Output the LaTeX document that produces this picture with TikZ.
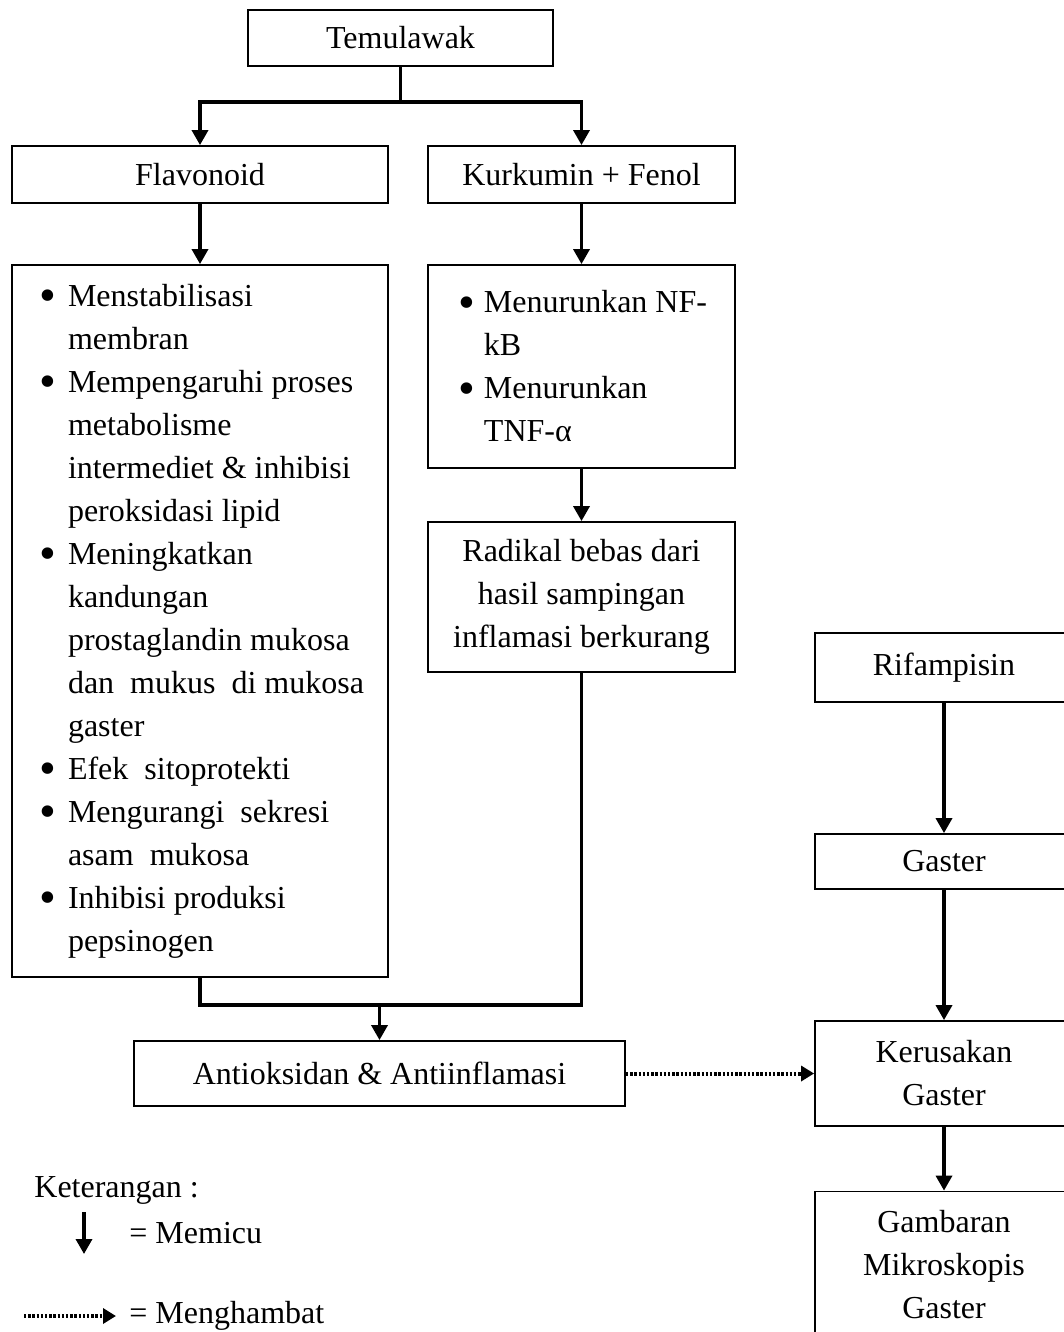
\documentclass[tikz,border=0pt]{standalone}
\usepackage{fontspec}
\setmainfont{Liberation Serif}
\usetikzlibrary{arrows.meta}
\newcommand{\diagfont}{\fontsize{16}{21.5}\selectfont}
\newcommand{\bul}[1]{\makebox[#1][l]{\hspace{1.5pt}\smash{\raisebox{-0.17em}{\scalebox{1.5}{\textbullet}}}}}
\begin{document}
\begin{tikzpicture}[x=0.5pt,y=-0.5pt,
  box/.style={draw, line width=0.9pt, inner sep=0pt, align=center, font=\diagfont},
  listbox/.style={box, align=left},
  ln/.style={line width=1.7pt},
  arr/.style={line width=1.7pt, -{Triangle[width=8pt,length=7.5pt]}},
  dotarr/.style={line width=2pt, dash pattern=on 1.2pt off 0.9pt, -{Triangle[width=7.5pt,length=6.5pt]}},
  lbl/.style={inner sep=0pt, anchor=west, font=\diagfont}]
\useasboundingbox (0,0) rectangle (1064,1332);
\clip (0,0) rectangle (1064,1332);
% nodes
\node[box, minimum width=152.5pt, minimum height=28pt] (temu) at (400.5,38) {Temulawak};
\node[box, minimum width=188pt, minimum height=28.5pt] (flav) at (200,174.5) {Flavonoid};
\node[box, minimum width=153.5pt, minimum height=28.5pt] (kurk) at (581.5,174.5) {Kurkumin + Fenol};
\node[listbox, minimum width=188pt, minimum height=356pt] (flavlist) at (200,621) {%
\bul{16pt}Menstabilisasi\\ \hspace*{16pt}membran\\
\bul{16pt}Mempengaruhi proses\\ \hspace*{16pt}metabolisme\\ \hspace*{16pt}intermediet \& inhibisi\\ \hspace*{16pt}peroksidasi lipid\\
\bul{16pt}Meningkatkan\\ \hspace*{16pt}kandungan\\ \hspace*{16pt}prostaglandin mukosa\\ \hspace*{16pt}dan~ mukus~ di mukosa\\ \hspace*{16pt}gaster\\
\bul{16pt}Efek~ sitoprotekti\\
\bul{16pt}Mengurangi~ sekresi\\ \hspace*{16pt}asam~ mukosa\\
\bul{16pt}Inhibisi produksi\\ \hspace*{16pt}pepsinogen};
\node[listbox, minimum width=153.5pt, minimum height=101.5pt] (nf) at (581.5,366.5) {%
\bul{14pt}Menurunkan NF-\\ \hspace*{14pt}kB\\
\bul{14pt}Menurunkan\\ \hspace*{14pt}TNF-α};
\node[box, minimum width=153.5pt, minimum height=75pt] (rad) at (581.5,597) {Radikal bebas dari\\hasil sampingan\\inflamasi berkurang};
\node[box, minimum width=245.5pt, minimum height=32.5pt] (anti) at (379.5,1073.5) {Antioksidan \& Antiinflamasi};
\node[box, minimum width=129pt, minimum height=34.5pt] (rif) at (944,667.5) {Rifampisin};
\node[box, minimum width=129pt, minimum height=27.5pt] (gas) at (944,861.5) {Gaster};
\node[box, minimum width=129pt, minimum height=52.5pt] (ker) at (944,1073.5) {Kerusakan\\Gaster};
\node[box, minimum width=129pt, minimum height=73pt] (gam) at (944,1264.5) {Gambaran\\Mikroskopis\\Gaster};
% connectors
\coordinate (split) at (400.5,102);
\draw[ln] (temu.south) -- (split);
\draw[arr] (split) -| (flav.north);
\draw[arr] (split) -| (kurk.north);
\draw[arr] (flav.south) -- (flavlist.north);
\draw[arr] (kurk.south) -- (nf.north);
\draw[arr] (nf.south) -- (rad.north);
\coordinate (join) at (379.5,1005);
\draw[ln] (flavlist.south) |- (rad.south |- join) -- (rad.south);
\draw[arr] (join) -- (anti.north);
\draw[dotarr] (anti.east) -- (ker.west);
\draw[arr] (rif.south) -- (gas.north);
\draw[arr] (gas.south) -- (ker.north);
\draw[arr] (ker.south) -- (gam.north);
% legend
\node[lbl] (ket) at (34,1190) {Keterangan :};
\coordinate (m1) at (84,1212);
\coordinate (m2) at (84,1254);
\draw[arr] (m1) -- (m2);
\node[lbl] (memicu) at (129,1233) {= Memicu};
\coordinate (h1) at (24,1316);
\coordinate (h2) at (116,1316);
\draw[dotarr] (h1) -- (h2);
\node[lbl] (hambat) at (129,1316) {= Menghambat};
\end{tikzpicture}
\end{document}
